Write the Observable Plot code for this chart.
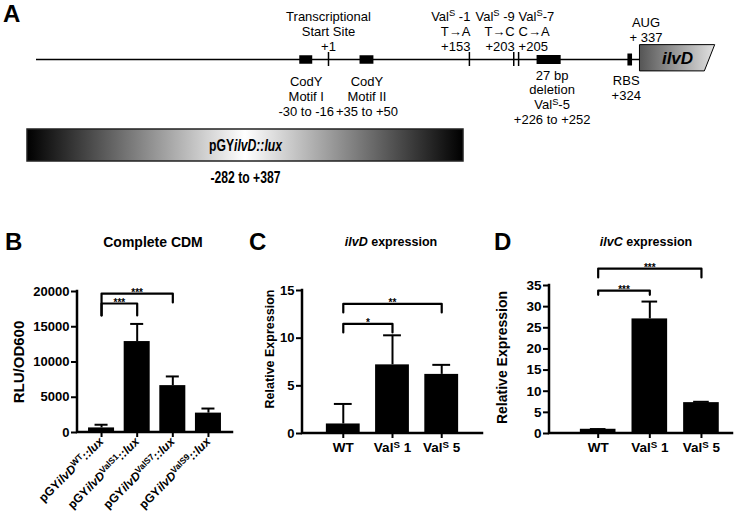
<!DOCTYPE html>
<html><head><meta charset="utf-8">
<script src="https://cdn.jsdelivr.net/npm/d3@7"></script>
<script src="https://cdn.jsdelivr.net/npm/@observablehq/plot@0.6"></script>
<style>
body{margin:0;background:#fff;}
#fig{position:relative;width:745px;height:530px;overflow:hidden;font-family:"Liberation Sans",Arial,Helvetica,sans-serif;color:#000;}
#fig svg{position:absolute;}
.lt{position:absolute;font-weight:bold;font-size:24px;line-height:24px;}
.tt{position:absolute;font-weight:bold;font-size:14px;line-height:14px;white-space:nowrap;transform:translateX(-50%);}
.ts{font-size:12.5px;line-height:12.5px;}
</style></head><body>
<svg width="0" height="0" style="position:absolute">
<defs>
<linearGradient id="barGrad" x1="0" x2="1" y1="0" y2="0">
<stop offset="0" stop-color="#000"/><stop offset="0.5" stop-color="#fff"/><stop offset="1" stop-color="#000"/>
</linearGradient>
<linearGradient id="geneGrad" x1="0" x2="1" y1="0" y2="0">
<stop offset="0" stop-color="#555"/><stop offset="1" stop-color="#e2e2e2"/>
</linearGradient>
</defs></svg>
<div id="fig"></div>
<script>
// ================= DATA =================
// Panel A: promoter map (bp, relative to transcription start site)
const mapDomain = [-314, 420];            // drawn extent of the promoter map
const geneStart = 337;                    // AUG
const geneGlyph = [{y: 2, x1: 337, x2: 418}, {y: -1.7, x1: 337, x2: 407}];
const motifs = [{start: -30, end: -16, label: "CodY\nMotif I\n-30 to -16"},
                {start: 35, end: 50, label: "CodY\nMotif II\n+35 to +50"}];
const deletion = [{start: 226, end: 252, label: "27 bp\ndeletion\nVal^{S}-5\n+226 to +252"}];
const rbs = [{start: 324, end: 329, label: "RBS\n+324"}];
const tss = [{pos: 1, label: "Transcriptional\nStart Site\n+1"}];
const snpLeft = [{pos: 153, label: "Val^{S} -1\nT\u2192A\n+153"}, {pos: 203, label: "Val^{S} -9\nT\u2192C\n+203"}];
const snpRight = [{pos: 205, label: "Val^{S}-7\nC\u2192A\n+205"}];
const aug = [{pos: 337, label: "AUG\n+ 337"}];
const construct = [{name: "pGY_{ilvD::lux}", start: -282, end: 387}];

// Panel B: Complete CDM (RLU/OD600)
const bNames = ["WT", "ValS1", "ValS7", "ValS9"];
const bTickLabels = ["pGY_{ilvD}^{WT}_{::lux}", "pGY_{ilvD}^{ValS1}_{::lux}", "pGY_{ilvD}^{ValS7}_{::lux}", "pGY_{ilvD}^{ValS9}_{::lux}"];
const bMeans = [650, 12900, 6650, 2750];
const bTops = [1100, 15400, 7950, 3400];
const bTicks = [0, 5000, 10000, 15000, 20000];
const bBrackets = [
  {from: "WT", to: "ValS1", level: 18300, leftEnd: 16600, rightEnd: 16600, stars: "***"},
  {from: "WT", to: "ValS7", level: 19700, leftEnd: 16600, rightEnd: 18450, stars: "***"}];

// Panel C: ilvD expression
const cNames = ["WT", "ValS1", "ValS5"];
const cTickLabels = ["WT", "Val^{S} 1", "Val^{S} 5"];
const cMeans = [1.0, 7.2, 6.2];
const cTops = [3.1, 10.3, 7.2];
const cTicks = [0, 5, 10, 15];
const cBrackets = [
  {from: "WT", to: "ValS1", level: 11.5, leftEnd: 10.6, rightEnd: 10.6, stars: "*"},
  {from: "WT", to: "ValS5", level: 13.6, leftEnd: 12.7, rightEnd: 12.7, stars: "**"}];

// Panel D: ilvC expression
const dNames = ["WT", "ValS1", "ValS5"];
const dTickLabels = ["WT", "Val^{S} 1", "Val^{S} 5"];
const dMeans = [1.0, 27.1, 7.3];
const dTops = [1.05, 31.2, 7.5];
const dTicks = [0, 5, 10, 15, 20, 25, 30, 35];
const dBrackets = [
  {from: "WT", to: "ValS1", level: 33.8, leftEnd: 32.8, rightEnd: 32.8, stars: "***"},
  {from: "WT", to: "ValS5", level: 39.0, leftEnd: 36.9, rightEnd: 36.9, stars: "***"}];

// ================= RENDER =================
const ns = "http://www.w3.org/2000/svg";
const fig = document.getElementById("fig");
const FONT = '"Liberation Sans", Arial, Helvetica, sans-serif';

function place(svg, left, top) {
  svg.style.left = left + "px"; svg.style.top = top + "px";
  fig.appendChild(svg);
  rich(svg);
  return svg;
}
// _{...} -> italic, ^{...} -> superscript
function rich(root) {
  root.querySelectorAll("text, tspan").forEach(el => {
    if (el.children.length) return;
    const s = el.textContent;
    if (!/[_^]\{/.test(s)) return;
    const fs = parseFloat(getComputedStyle(el).fontSize) || 12;
    el.textContent = "";
    let pending = 0;
    s.split(/(_\{[^}]*\}|\^\{[^}]*\})/).forEach(tok => {
      if (!tok) return;
      const t = document.createElementNS(ns, "tspan");
      if (tok[0] === "_" && tok[1] === "{") {
        t.textContent = tok.slice(2, -1); t.setAttribute("font-style", "italic");
      } else if (tok[0] === "^" && tok[1] === "{") {
        t.textContent = tok.slice(2, -1);
        t.setAttribute("font-size", (fs * 0.72).toFixed(2));
        t.setAttribute("dy", (-fs * 0.33).toFixed(2));
        pending = fs * 0.33; el.appendChild(t); return;
      } else t.textContent = tok;
      if (pending) { t.setAttribute("dy", pending.toFixed(2)); pending = 0; }
      el.appendChild(t);
    });
    if (pending) {
      const t = document.createElementNS(ns, "tspan");
      t.textContent = "\u200B"; t.setAttribute("dy", pending.toFixed(2)); el.appendChild(t);
    }
  });
}
// narrow (condensed) rendering of the texts of one plot
function condense(root, k) {
  root.querySelectorAll("text").forEach(el => {
    const tr = el.getAttribute("transform") || "";
    el.setAttribute("transform", (tr + ` scale(${k},1)`).trim());
  });
}
function div(cls, html, left, top) {
  const d = document.createElement("div");
  d.className = cls; d.innerHTML = html; d.style.left = left + "px"; d.style.top = top + "px";
  fig.appendChild(d);
}
function axisLines(index, scales, values, dims) {
  const {width, height, marginLeft, marginTop, marginRight, marginBottom} = dims;
  const p = document.createElementNS(ns, "path");
  p.setAttribute("d", `M${marginLeft},${marginTop}V${height - marginBottom}H${width - marginRight}`);
  p.setAttribute("fill", "none"); p.setAttribute("stroke", "#000");
  p.setAttribute("stroke-width", "2.5"); p.setAttribute("stroke-linecap", "square");
  return p;
}

// ---- Panel A: map ----
const mid = d => (d.start + d.end) / 2;
place(Plot.plot({
  width: 745, height: 125, marginLeft: 36, marginRight: 28.6, marginTop: 52, marginBottom: 59,
  x: {domain: mapDomain, axis: null}, y: {domain: [-1, 1], axis: null},
  style: {fontFamily: FONT, fontSize: "13px", color: "#000", background: "none", overflow: "visible"},
  marks: [
    Plot.ruleY([0], {x1: mapDomain[0], x2: geneStart, stroke: "#000", strokeWidth: 1.5}),
    Plot.ruleY(motifs, {x1: "start", x2: "end", y: 0, stroke: "#000", strokeWidth: 8.5}),
    Plot.ruleY(deletion, {x1: "start", x2: "end", y: 0, stroke: "#000", strokeWidth: 9}),
    Plot.ruleY(rbs, {x1: "start", x2: "end", y: 0, stroke: "#000", strokeWidth: 12}),
    Plot.tickX(tss, {x: "pos", stroke: "#000", strokeWidth: 1.5}),
    Plot.tickX(snpLeft.slice(0, 1), {x: "pos", stroke: "#000", strokeWidth: 1.5}),
    Plot.tickX(snpLeft.slice(1), {x: "pos", dx: -2, stroke: "#000", strokeWidth: 1.5}),
    Plot.tickX(snpRight, {x: "pos", dx: 1, stroke: "#000", strokeWidth: 1.5}),
    Plot.areaX(geneGlyph, {y: "y", x1: "x1", x2: "x2", fill: "url(#geneGrad)", stroke: "#000", strokeWidth: 1}),
    Plot.text([{s: geneGlyph[0].x1, e: geneGlyph[0].x2}], {x: d => (d.s + d.e) / 2, y: 0, text: () => "ilvD", fontSize: 17, fontWeight: "bold", fontStyle: "italic", dy: -1}),
    Plot.text(tss, {x: "pos", text: "label", frameAnchor: "top", lineAnchor: "bottom", dy: -2, lineHeight: 1.15}),
    Plot.text(snpLeft.slice(0, 1), {x: "pos", text: "label", frameAnchor: "top", lineAnchor: "bottom", textAnchor: "end", dy: -2, dx: 1, lineHeight: 1.15}),
    Plot.text(snpLeft.slice(1), {x: "pos", text: "label", frameAnchor: "top", lineAnchor: "bottom", textAnchor: "end", dy: -2, dx: -1, lineHeight: 1.15}),
    Plot.text(snpRight, {x: "pos", text: "label", frameAnchor: "top", lineAnchor: "bottom", textAnchor: "start", dy: -2, dx: 1, lineHeight: 1.15}),
    Plot.text(aug, {x: "pos", text: "label", frameAnchor: "top", lineAnchor: "bottom", dy: -11, dx: 6, lineHeight: 1.15}),
    Plot.text(motifs, {x: mid, text: "label", frameAnchor: "bottom", lineAnchor: "top", dy: 9, lineHeight: 1.15}),
    Plot.text(deletion, {x: mid, text: "label", frameAnchor: "bottom", lineAnchor: "top", dy: 3, dx: 3, lineHeight: 1.12}),
    Plot.text(rbs, {x: mid, text: "label", frameAnchor: "bottom", lineAnchor: "top", dy: 8, dx: -4, lineHeight: 1.15})
  ]
}), 0, 0);

// ---- Panel A: construct bar ----
const cons = place(Plot.plot({
  width: 745, height: 70, marginTop: 9, marginBottom: 29, marginLeft: 0, marginRight: 0,
  x: {domain: [construct[0].start, construct[0].end], range: [27, 463], axis: null},
  style: {fontFamily: FONT, fontSize: "15px", fontWeight: "bold", color: "#000", background: "none", overflow: "visible"},
  marks: [
    Plot.rect(construct, {x1: "start", x2: "end", fill: "url(#barGrad)", stroke: "#222", strokeWidth: 1.5}),
    Plot.text(construct, {x: mid, text: "name", frameAnchor: "middle", fontSize: 16}),
    Plot.text(construct, {x: mid, text: d => `${d.start} to +${d.end}`, frameAnchor: "bottom", lineAnchor: "top", dy: 10, fontSize: 16})
  ]
}), 0, 120);
condense(cons, 0.76);

// ---- Bar panels ----
function barPanel(c) {
  const data = c.names.map((n, i) => ({name: n, mean: c.means[i], top: c.tops[i]}));
  const fmt = new Map(c.names.map((n, i) => [n, c.tickLabels[i]]));
  const band = d3.scaleBand(c.names, [c.ml, c.width - c.mr]).paddingInner(c.pi).paddingOuter(c.po).align(c.align);
  const pts = c.brackets.flatMap((b, k) => [
    {k, x: b.from, y: b.leftEnd}, {k, x: b.from, y: b.level}, {k, x: b.to, y: b.level}, {k, x: b.to, y: b.rightEnd}]);
  const svg = Plot.plot({
    width: c.width, height: c.height, marginLeft: c.ml, marginRight: c.mr, marginTop: c.mt, marginBottom: c.mb,
    x: {domain: c.names, paddingInner: c.pi, paddingOuter: c.po, align: c.align, round: false, label: null},
    y: {domain: c.yDomain, label: null},
    style: {fontFamily: FONT, fontSize: "13px", fontWeight: "bold", color: "#000", background: "none", overflow: "visible"},
    marks: [
      Plot.barY(data, {x: "name", y: "mean", fill: "#000"}),
      Plot.ruleX(data, {x: "name", y1: "mean", y2: "top", stroke: "#000", strokeWidth: 2}),
      Plot.tickY(data, {x: "name", y: "top", stroke: "#000", strokeWidth: 2, insetLeft: c.cap, insetRight: c.cap}),
      Plot.line(pts, {x: "x", y: "y", z: "k", stroke: "#000", strokeWidth: 2.2, curve: "linear"}),
      ...c.brackets.map(b => Plot.text([b], {x: "from", y: "level", text: "stars", dx: (band(b.to) - band(b.from)) / 2, dy: 2.5, lineAnchor: "bottom", fontSize: 10})),
      Plot.axisY({ticks: c.ticks, tickFormat: d3.format("d"), tickSize: 6, tickPadding: 2, strokeWidth: 2, fontSize: c.tickFont, label: null}),
      Plot.axisX({tickSize: 5, tickPadding: c.xPad, tickRotate: c.rotate, strokeWidth: 2, tickFormat: d => fmt.get(d), fontSize: c.xFont, label: null}),
      Plot.text([c.yLabel], {frameAnchor: "left", rotate: -90, dx: c.yDx, dy: c.yDy, text: d => d, fontSize: c.yFont, textAnchor: "middle", lineAnchor: "middle"}),
      axisLines
    ]
  });
  place(svg, c.left, c.top);
}

barPanel({left: 0, top: 230, width: 245, height: 300, ml: 77, mr: 13, mt: 61, mb: 98,
  names: bNames, tickLabels: bTickLabels, means: bMeans, tops: bTops, brackets: bBrackets,
  yDomain: [0, 20000], ticks: bTicks, pi: 0.27, po: 0.31, align: 0.5, cap: 6.5,
  tickFont: 13, xFont: 12, xPad: 2, rotate: -45, yLabel: "RLU/OD600", yDx: -58, yDy: 0, yFont: 15});
barPanel({left: 245, top: 230, width: 245, height: 300, ml: 57, mr: 8, mt: 60, mb: 97,
  names: cNames, tickLabels: cTickLabels, means: cMeans, tops: cTops, brackets: cBrackets,
  yDomain: [0, 15], ticks: cTicks, pi: 0.313, po: 0.485, align: 0.5, cap: 8,
  tickFont: 13, xFont: 13.5, xPad: 4, rotate: 0, yLabel: "Relative Expression", yDx: -33, yDy: -13, yFont: 12.5});
barPanel({left: 490, top: 230, width: 255, height: 300, ml: 59, mr: 13, mt: 55, mb: 97,
  names: dNames, tickLabels: dTickLabels, means: dMeans, tops: dTops, brackets: dBrackets,
  yDomain: [0, 35], ticks: dTicks, pi: 0.31, po: 0.427, align: 0.7, cap: 10,
  tickFont: 13.5, xFont: 13.5, xPad: 4, rotate: 0, yLabel: "Relative Expression", yDx: -47, yDy: -2, yFont: 14});

// ---- Letters & titles ----
div("lt", "A", 3, 2);
div("lt", "B", 5, 230);
div("lt", "C", 249, 230);
div("lt", "D", 494, 230);
div("tt", "Complete CDM", 153, 235);
div("tt ts", "<i>ilvD</i> expression", 391, 236);
div("tt ts", "<i>ilvC</i> expression", 646, 236);
</script>
</body></html>
